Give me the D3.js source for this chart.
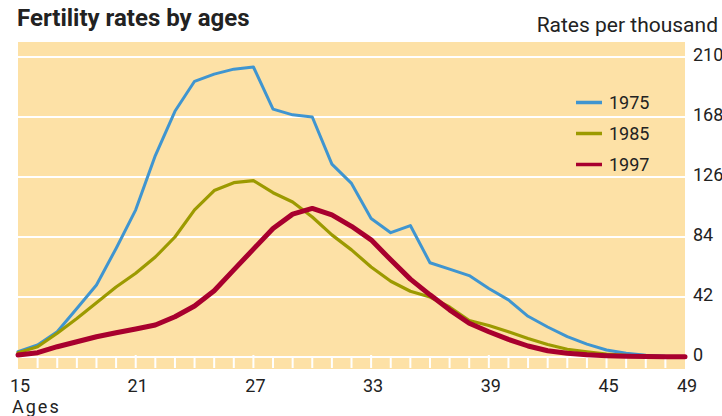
<!DOCTYPE html>
<html lang="en">
<head>
    <meta charset="UTF-8">
    <title>Fertility rates by ages</title>
    <script src="https://d3js.org/d3.v7.min.js"></script>
    <style>
        body{
            margin: 0;
            background-color: white;
        }
        svg text{
            font-family: Roboto, "Liberation Sans", sans-serif;
            fill: #222;
        }
        .title{
            font-weight: bold;
            font-size: 24px;
        }
    </style>
</head>
<body>
    <svg id="canvas" width="722" height="416"></svg>
    <script>
        // values
        let ages = [15, 16, 17, 18, 19, 20, 21, 22, 23, 24, 25, 26, 27, 28, 29, 30, 31, 32,
                    33, 34, 35, 36, 37, 38, 39, 40, 41, 42, 43, 44, 45, 46, 47, 48, 49];
        let rates1975 = [3.7, 8.4, 17.7, 34, 50.4, 76, 103, 141, 172, 193, 198, 201.5, 203, 173.5, 169.5, 168, 135, 121.5,
                         97, 87, 92, 66, 61.5, 57, 48, 40, 28.5, 21, 14.2, 9, 4.9, 2.6, 1.2, 0.5, 0.4];
        let rates1985 = [3, 7.2, 16.6, 27, 38, 49, 58.6, 70, 84, 103, 116.5, 122, 123.5, 115, 108.5, 98, 85.5, 75,
                         63, 53, 46, 42, 35, 25.5, 22, 17.7, 13, 8.8, 5.4, 3.7, 2.1, 1.2, 0.5, 0.2, 0.1];
        let rates1997 = [1.4, 3, 7.2, 10.7, 14.2, 17, 19.6, 22.4, 28.2, 35.7, 46.4, 61, 75.5, 90, 100, 104, 99.5, 91.5,
                         82, 68, 54.5, 43.5, 33, 23.6, 17.7, 12.3, 7.7, 4.4, 2.6, 1.5, 0.9, 0.5, 0.3, 0.1, 0.1];
        let seriesNames = ['1975', '1985', '1997'];
        let yTicks = [0, 42, 84, 126, 168, 210];
        let xTickLabels = [15, 21, 27, 33, 39, 45, 49];

        let colors = ['#3f95d0', '#9c9a00', '#a8002e'];
        let widths = [3, 3.2, 5];

        let svg = d3.select('svg');

        let x = d3.scaleLinear().domain([15, 49]).range([18, 685]);
        let y = d3.scaleLinear().domain([0, 210]).range([357, 57]);

        // background panel
        svg.append('rect')
            .attr('x', 18).attr('y', 42)
            .attr('width', 667).attr('height', 327)
            .attr('fill', '#fde1a6');

        // horizontal gridlines
        svg.append('g')
            .selectAll('line')
            .data(yTicks)
            .enter()
            .append('line')
            .attr('x1', 18).attr('x2', 685)
            .attr('y1', d => y(d)).attr('y2', d => y(d))
            .attr('stroke', 'white')
            .attr('stroke-width', 2);

        // little white ticks for every age
        svg.append('g')
            .selectAll('line')
            .data(ages.slice(1, -1))
            .enter()
            .append('line')
            .attr('x1', d => x(d)).attr('x2', d => x(d))
            .attr('y1', d => xTickLabels.includes(d) ? 355 : 358)
            .attr('y2', 368)
            .attr('stroke', 'white')
            .attr('stroke-width', 2);

        // y labels on the right
        svg.append('g')
            .selectAll('text')
            .data(yTicks)
            .enter()
            .append('text')
            .attr('x', 693)
            .attr('y', d => y(d) - 2)
            .attr('dy', '0.35em')
            .attr('font-size', '18px')
            .attr('fill', '#333')
            .text(d => d);

        // x labels
        svg.append('g')
            .selectAll('text')
            .data(xTickLabels)
            .enter()
            .append('text')
            .attr('x', d => x(d) + 2)
            .attr('y', 392)
            .attr('text-anchor', 'middle')
            .attr('font-size', '18px')
            .attr('fill', '#333')
            .text(d => d);

        svg.append('text')
            .attr('x', 12).attr('y', 413)
            .attr('font-size', '18px')
            .attr('letter-spacing', '2px')
            .attr('fill', '#333')
            .text('Ages');

        // titles
        svg.append('text')
            .attr('class', 'title')
            .attr('x', 17).attr('y', 26)
            .text('Fertility rates by ages');
        svg.append('text')
            .attr('x', 718).attr('y', 32)
            .attr('text-anchor', 'end')
            .attr('font-size', '21px')
            .text('Rates per thousand');

        // the lines
        let allSeries = [rates1975, rates1985, rates1997];
        let line = d3.line()
            .x((d, i) => x(ages[i]))
            .y(d => y(d));

        svg.append('g')
            .selectAll('path')
            .data(allSeries)
            .enter()
            .append('path')
            .attr('d', line)
            .attr('fill', 'none')
            .attr('stroke', (d, i) => colors[i])
            .attr('stroke-width', (d, i) => widths[i])
            .attr('stroke-linejoin', 'round')
            .attr('stroke-linecap', 'round');

        // legend
        let legend = svg.append('g')
            .selectAll('g')
            .data(seriesNames)
            .enter()
            .append('g')
            .attr('transform', (d, i) => 'translate(576,' + (102.5 + i * 31) + ')');
        legend.append('line')
            .attr('x1', 0).attr('x2', 26)
            .attr('stroke', (d, i) => colors[i])
            .attr('stroke-width', 3.5);
        legend.append('text')
            .attr('x', 33)
            .attr('dy', '0.36em')
            .attr('font-size', '18px')
            .text(d => d);
    </script>
</body>
</html>
